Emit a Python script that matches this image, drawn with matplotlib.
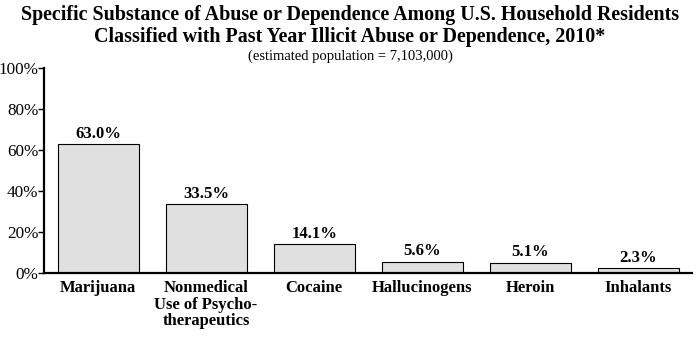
import matplotlib.pyplot as plt
from matplotlib.ticker import FuncFormatter

categories = ['Marijuana', 'Nonmedical\nUse of Psycho-\ntherapeutics', 'Cocaine',
              'Hallucinogens', 'Heroin', 'Inhalants']
values = [63.0, 33.5, 14.1, 5.6, 5.1, 2.3]
yticks = [0, 20, 40, 60, 80, 100]

plt.rcParams['font.family'] = ['Liberation Serif', 'DejaVu Serif']

fig = plt.figure(figsize=(7, 3.44), dpi=100)
ax = fig.add_axes([0.063, 0.2064, 0.9256, 0.5959])

x = range(len(values))
ax.bar(x, values, width=0.75, color='#e0e0e0', edgecolor='black', linewidth=0.8)
for i, v in zip(x, values):
    ax.text(i, v + 1.0, f'{v:.1f}%', ha='center', va='bottom',
            fontsize=12, fontweight='bold')

ax.set_xlim(-0.5, 5.5)
ax.set_ylim(0, 100)
ax.set_yticks(yticks)
ax.yaxis.set_major_formatter(FuncFormatter(lambda v, p: f'{v:.0f}%'))
ax.tick_params(axis='y', direction='out', length=4, width=1, pad=0, labelsize=12.3)
ax.set_xticks(list(x))
ax.set_xticklabels(categories, fontsize=12, fontweight='bold', va='top', linespacing=1.05)
ax.tick_params(axis='x', length=0, pad=5)

for s in ['top', 'right']:
    ax.spines[s].set_visible(False)
ax.spines['left'].set_linewidth(1.6)
ax.spines['bottom'].set_linewidth(1.6)

fig.text(0.5, 0.985, 'Specific Substance of Abuse or Dependence Among U.S. Household Residents\n'
         'Classified with Past Year Illicit Abuse or Dependence, 2010*',
         ha='center', va='top', fontsize=14.4, fontweight='bold', linespacing=1.15)
fig.text(0.5, 0.855, '(estimated population = 7,103,000)', ha='center', va='top', fontsize=10.5)

fig.savefig('out.png', dpi=100)
